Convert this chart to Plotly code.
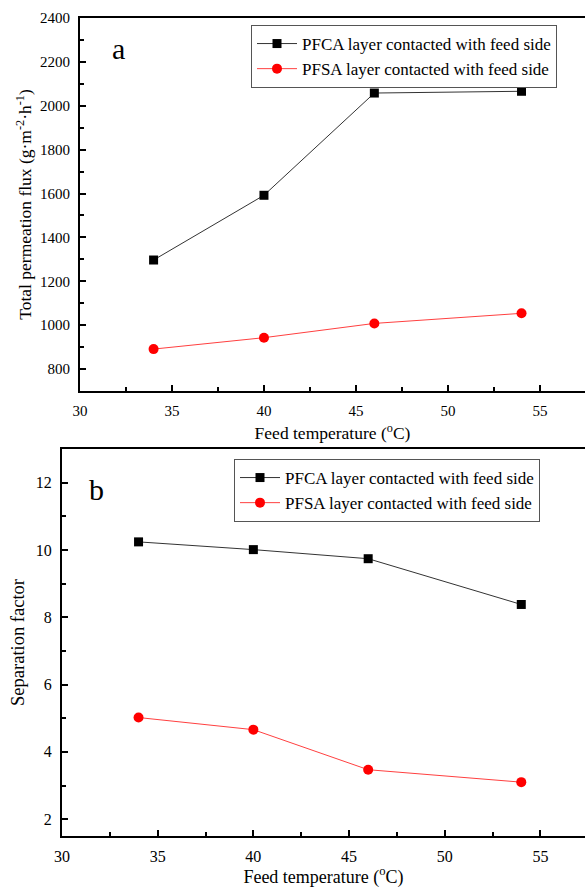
import plotly.graph_objects as go

temps = [34, 40, 46, 54]
flux_pfca = [1297, 1592, 2058, 2066]
flux_pfsa = [891, 943, 1008, 1054]
sep_pfca = [10.24, 10.01, 9.74, 8.38]
sep_pfsa = [5.02, 4.66, 3.47, 3.10]

name_pfca = "PFCA layer contacted with feed side"
name_pfsa = "PFSA layer contacted with feed side"

W, H = 585, 888
FONT = "Liberation Serif, Times New Roman, serif"

fig = go.Figure()

def add(x, y, name, color, lcolor, symbol, size, xa, ya, leg):
    fig.add_trace(go.Scatter(
        x=x, y=y, name=name, mode="lines+markers",
        line=dict(color=lcolor, width=1),
        marker=dict(color=color, symbol=symbol, size=size,
                    line=dict(width=0)),
        xaxis=xa, yaxis=ya, legend=leg))

add(temps, flux_pfca, name_pfca, "black", "#333333", "square", 9, "x", "y", "legend")
add(temps, flux_pfsa, name_pfsa, "#ff0000", "#ff4040", "circle", 10, "x", "y", "legend")
add(temps, sep_pfca, name_pfca, "black", "#333333", "square", 9, "x2", "y2", "legend2")
add(temps, sep_pfsa, name_pfsa, "#ff0000", "#ff4040", "circle", 10, "x2", "y2", "legend2")

def px_x(p):
    return p / W

def px_y(p):
    return 1 - p / H

def axis_common(fs):
    return dict(
        showline=True, linecolor="black", linewidth=2,
        ticks="inside", ticklen=6, tickwidth=1.5, tickcolor="black",
        showgrid=False, zeroline=False, automargin=False,
        ticklabelstandoff=5,
        tickfont=dict(family=FONT, size=fs, color="black"),
    )

def minor(dt):
    return dict(ticks="inside", ticklen=4, tickwidth=1.5, tickcolor="black", dtick=dt)

def tfont(fs):
    return dict(family=FONT, size=fs, color="black")

fig.update_layout(
    width=W, height=H,
    margin=dict(l=0, r=0, t=0, b=0, autoexpand=False),
    paper_bgcolor="white", plot_bgcolor="white",
    font=dict(family=FONT, color="black"),
    xaxis=dict(
        domain=[px_x(80), 1], range=[30, 57.45], anchor="y",
        tickmode="linear", tick0=30, dtick=5, mirror=True,
        minor=minor(2.5),
        title=dict(text="Feed temperature (<sup>o</sup>C)", font=tfont(17.5), standoff=9),
        **axis_common(15)),
    yaxis=dict(
        domain=[px_y(391), px_y(18)], range=[700, 2400], anchor="x",
        tickmode="linear", tick0=800, dtick=200, mirror=False,
        minor=minor(100),
        title=dict(text="Total permeation flux (g·m<sup>-2</sup>·h<sup>-1</sup>)", font=tfont(17.5), standoff=4),
        **axis_common(15)),
    xaxis2=dict(
        domain=[px_x(62), 1], range=[30, 57.33], anchor="y2",
        tickmode="linear", tick0=30, dtick=5, mirror=True,
        minor=minor(2.5),
        title=dict(text="Feed temperature (<sup>o</sup>C)", font=tfont(18), standoff=15),
        **axis_common(16)),
    yaxis2=dict(
        domain=[px_y(836), px_y(449)], range=[1.5, 13], anchor="x2",
        tickmode="linear", tick0=2, dtick=2, mirror=False,
        minor=minor(1),
        title=dict(text="Separation factor", font=tfont(18.5), standoff=6),
        **axis_common(16)),
    legend=dict(
        x=px_x(251), y=px_y(25), xanchor="left", yanchor="top",
        bgcolor="white", bordercolor="#555555", borderwidth=1,
        font=dict(family=FONT, size=17, color="black"),
        tracegroupgap=0, itemwidth=40),
    legend2=dict(
        x=px_x(234), y=px_y(459), xanchor="left", yanchor="top",
        bgcolor="white", bordercolor="#555555", borderwidth=1,
        font=dict(family=FONT, size=17, color="black"),
        tracegroupgap=0, itemwidth=40),
    annotations=[
        dict(text="a", x=px_x(118), y=px_y(48), xref="paper", yref="paper",
             xanchor="center", yanchor="middle",
             showarrow=False, font=dict(family=FONT, size=30, color="black")),
        dict(text="b", x=px_x(96.5), y=px_y(489), xref="paper", yref="paper",
             xanchor="center", yanchor="middle",
             showarrow=False, font=dict(family=FONT, size=30, color="black")),
    ],
)

fig.write_html(
    "out.html",
    config={"displayModeBar": False},
    post_script="document.body.style.margin='0';document.body.style.overflow='hidden';",
)
